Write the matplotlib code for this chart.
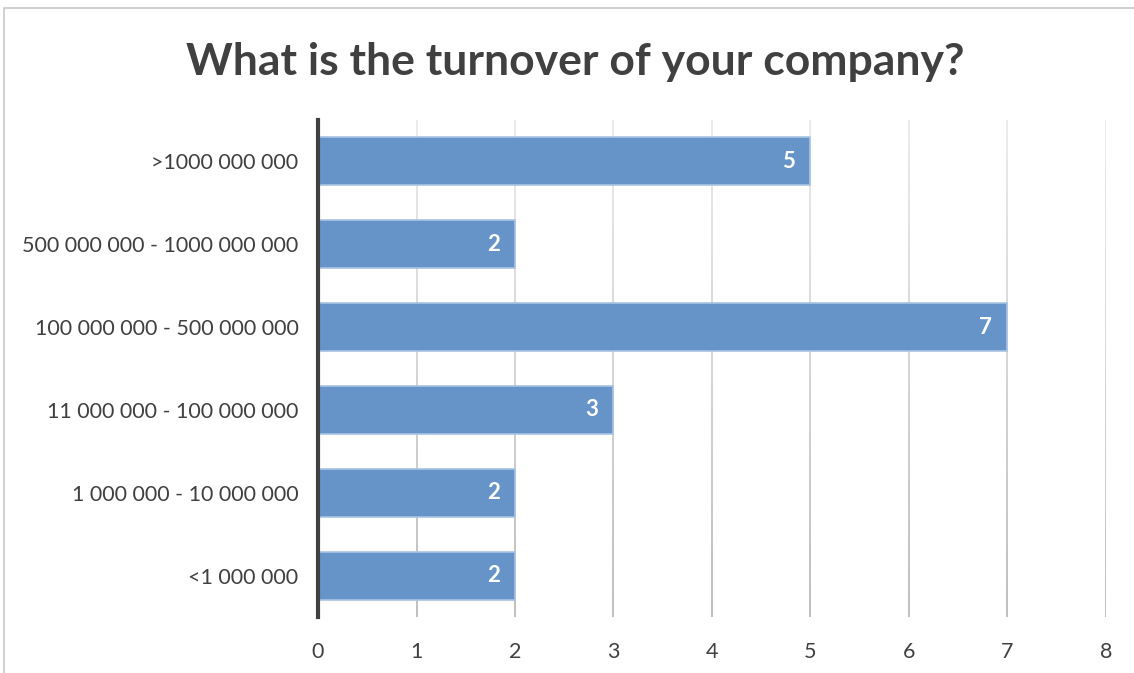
import matplotlib.pyplot as plt
import numpy as np
from matplotlib.patches import Rectangle

categories = ['<1 000 000', '1 000 000 - 10 000 000', '11 000 000 - 100 000 000',
              '100 000 000 - 500 000 000', '500 000 000 - 1000 000 000', '>1000 000 000']
counts = [2, 2, 3, 7, 2, 5]
xticks = [0, 1, 2, 3, 4, 5, 6, 7, 8]

plt.rcParams['font.family'] = ['Lato', 'DejaVu Sans']

fig = plt.figure(figsize=(11.34, 6.73), dpi=100)
ax = fig.add_axes([318 / 1134, 1 - 617 / 673, (1106 - 318) / 1134, (617 - 120) / 673])

# chart frame
fig.patches.append(Rectangle((4 / 1134, -0.1), 1.2, 1 - 8 / 673 + 0.1, transform=fig.transFigure,
                             fill=False, edgecolor='#c8c8c8', linewidth=1.2))

# gridlines, fading toward the top
for x in xticks[1:]:
    n = 40
    ys = np.linspace(-0.5, 5.5, n + 1)
    for i in range(n):
        a = 0.25 + 0.6 * (1 - i / n)
        ax.plot([x, x], [ys[i], ys[i + 1]], color='#a6a6a6', alpha=a, linewidth=1.2,
                solid_capstyle='butt', zorder=1)

y = np.arange(len(categories))
bars = ax.barh(y, counts, height=0.58, color='#6794c8', edgecolor='#a9c3e3',
               linewidth=1.2, zorder=2)
for b, v in zip(bars, counts):
    ax.text(v - 0.22, b.get_y() + b.get_height() / 2, str(v), ha='center', va='center',
            color='white', fontsize=16, fontweight='bold', zorder=3)

ax.set_xlim(0, 8)
ax.set_ylim(-0.5, 5.5)
ax.set_xticks(xticks)
ax.set_yticks(y)
ax.set_yticklabels(categories)
ax.tick_params(axis='both', length=0, labelsize=15.5, colors='#404040')
ax.tick_params(axis='x', pad=18)
ax.tick_params(axis='y', pad=14)
for s in ['top', 'right', 'bottom']:
    ax.spines[s].set_visible(False)
ax.spines['left'].set_color('#404040')
ax.spines['left'].set_linewidth(3)
ax.spines['left'].set_zorder(4)

fig.text(575 / 1134, 1 - 62 / 673, 'What is the turnover of your company?', ha='center', va='center',
         fontsize=32, fontweight='bold', color='#404040')

fig.savefig('out.png', dpi=100)
